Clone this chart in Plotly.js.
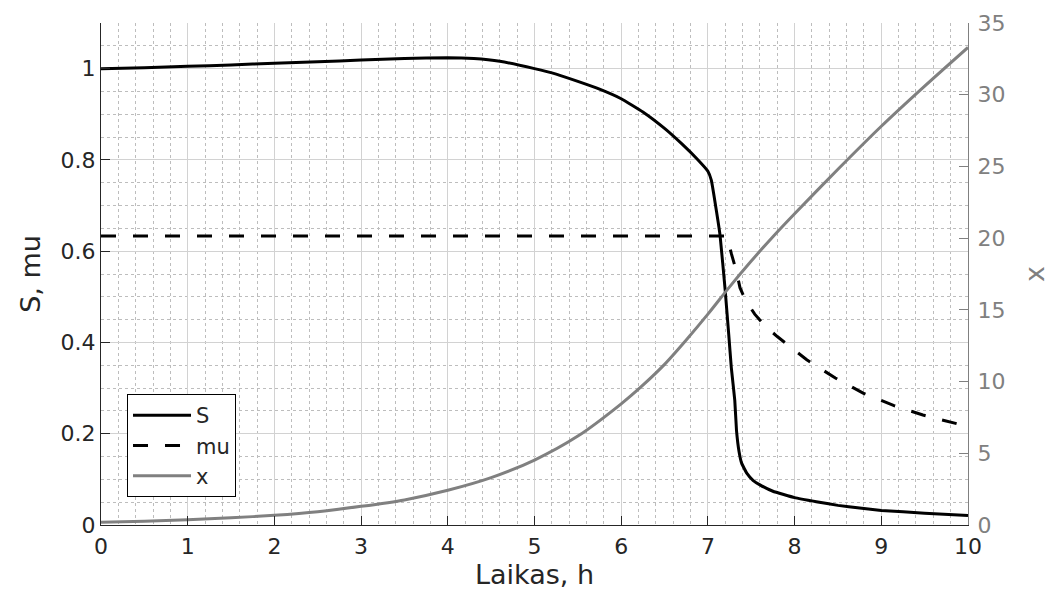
<!DOCTYPE html>
<html>
<head>
<meta charset="utf-8">
<script src="https://cdn.plot.ly/plotly-3.0.1.min.js"></script>
<style>
  html, body { margin: 0; padding: 0; background: #fff; }
  #chart { width: 1051px; height: 611px; }
</style>
</head>
<body>
<div id="chart"></div>
<script>
// Substrate concentration S (left axis)
const tS = [0, 0.5, 1, 1.5, 2, 2.5, 3, 3.5, 4, 4.3, 4.6, 5, 5.25, 5.5, 5.75, 6, 6.25, 6.5, 6.7, 6.87,
            7.0, 7.04, 7.08, 7.14, 7.2, 7.24, 7.27, 7.31, 7.33, 7.36, 7.39, 7.45, 7.52, 7.6, 7.75,
            8.0, 8.25, 8.5, 8.75, 9.0, 9.5, 10];
const S  = [1.000, 1.002, 1.005, 1.008, 1.012, 1.015, 1.019, 1.022, 1.024, 1.022, 1.016, 1.000, 0.988, 0.972, 0.955, 0.934, 0.905, 0.869, 0.835, 0.803,
            0.775, 0.755, 0.710, 0.635, 0.513, 0.418, 0.345, 0.273, 0.207, 0.160, 0.135, 0.113, 0.098, 0.088, 0.074,
            0.060, 0.051, 0.043, 0.037, 0.032, 0.026, 0.021];

// Specific growth rate mu (left axis)
const tMu = [0, 7.22, 7.27, 7.33, 7.37, 7.43, 7.54, 7.66, 7.8, 7.93, 8.14, 8.47, 8.79, 9.14, 9.48, 9.87, 10];
const mu  = [0.633, 0.633, 0.595, 0.555, 0.520, 0.494, 0.462, 0.436, 0.413, 0.393, 0.362, 0.322, 0.289, 0.262, 0.241, 0.222, 0.216];

// Biomass x (right axis)
const tX = [0, 0.5, 1, 1.5, 2, 2.5, 3, 3.5, 4, 4.5, 5, 5.5, 6, 6.25, 6.5, 6.75, 7, 7.25, 7.5, 7.75, 8, 8.5, 9, 9.5, 10];
const X  = [0.2, 0.27, 0.37, 0.5, 0.68, 0.93, 1.3, 1.75, 2.42, 3.3, 4.53, 6.2, 8.45, 9.75, 11.2, 12.9, 14.7, 16.6, 18.4, 20.1, 21.7, 24.8, 27.8, 30.6, 33.3];

const xTicks = [0, 1, 2, 3, 4, 5, 6, 7, 8, 9, 10];
const leftTicks = [0, 0.2, 0.4, 0.6, 0.8, 1];
const rightTicks = [0, 5, 10, 15, 20, 25, 30, 35];

const FONT = 'DejaVu Sans, Liberation Sans, Arial, sans-serif';
const DARK = '#262626';
const GREY = '#808080';

const traces = [
  { x: tS, y: S, name: 'S', type: 'scatter', mode: 'lines',
    line: { color: '#000000', width: 3, shape: 'spline', smoothing: 0.3 } },
  { x: tMu, y: mu, name: 'mu', type: 'scatter', mode: 'lines',
    line: { color: '#000000', width: 3, dash: '15px,17px' } },
  { x: tX, y: X, name: 'x', type: 'scatter', mode: 'lines', yaxis: 'y2',
    line: { color: GREY, width: 3, shape: 'spline', smoothing: 0.8 } }
];

const layout = {
  width: 1051, height: 611,
  margin: { l: 101, r: 83, t: 23, b: 86 },
  paper_bgcolor: '#ffffff', plot_bgcolor: '#ffffff',
  font: { family: FONT, size: 22, color: DARK },
  showlegend: true,
  legend: {
    x: 0.030, y: 0.261, xanchor: 'left', yanchor: 'top',
    bgcolor: '#ffffff', bordercolor: '#000000', borderwidth: 1,
    font: { family: FONT, size: 21, color: DARK },
    itemwidth: 58,
    tracegroupgap: 0
  },
  xaxis: {
    range: [0, 10], tickvals: xTicks, ticks: 'inside', ticklen: 9, tickcolor: DARK,
    showline: true, linecolor: DARK, linewidth: 1, mirror: false,
    showgrid: true, gridcolor: '#d2d2d2', gridwidth: 1, zeroline: false,
    minor: { dtick: 0.2, showgrid: true, gridcolor: '#bdbdbd', griddash: 'dot', gridwidth: 1 },
    tickfont: { family: FONT, size: 22, color: DARK },
    ticklabelstandoff: 2,
    title: { text: 'Laikas, h', font: { family: FONT, size: 27, color: DARK }, standoff: 1 },
    fixedrange: true
  },
  yaxis: {
    range: [0, 1.1], tickvals: leftTicks, ticks: 'inside', ticklen: 9, tickcolor: DARK,
    showline: true, linecolor: DARK, linewidth: 1, mirror: false,
    showgrid: true, gridcolor: '#d2d2d2', gridwidth: 1, zeroline: false,
    minor: { dtick: 0.05, showgrid: true, gridcolor: '#bdbdbd', griddash: 'dot', gridwidth: 1 },
    tickfont: { family: FONT, size: 22, color: DARK },
    title: { text: 'S, mu', font: { family: FONT, size: 27, color: DARK }, standoff: 12 },
    fixedrange: true
  },
  yaxis2: {
    overlaying: 'y', side: 'right',
    range: [0, 35], tickvals: rightTicks, ticks: 'inside', ticklen: 9, tickcolor: GREY,
    showline: true, linecolor: GREY, linewidth: 1,
    showgrid: false, zeroline: false,
    tickfont: { family: FONT, size: 22, color: GREY },
    ticklabelstandoff: 4,
    title: { text: 'x', font: { family: FONT, size: 27, color: GREY }, standoff: 20 },
    fixedrange: true
  }
};

Plotly.newPlot('chart', traces, layout, { staticPlot: true, displayModeBar: false });
</script>
</body>
</html>
